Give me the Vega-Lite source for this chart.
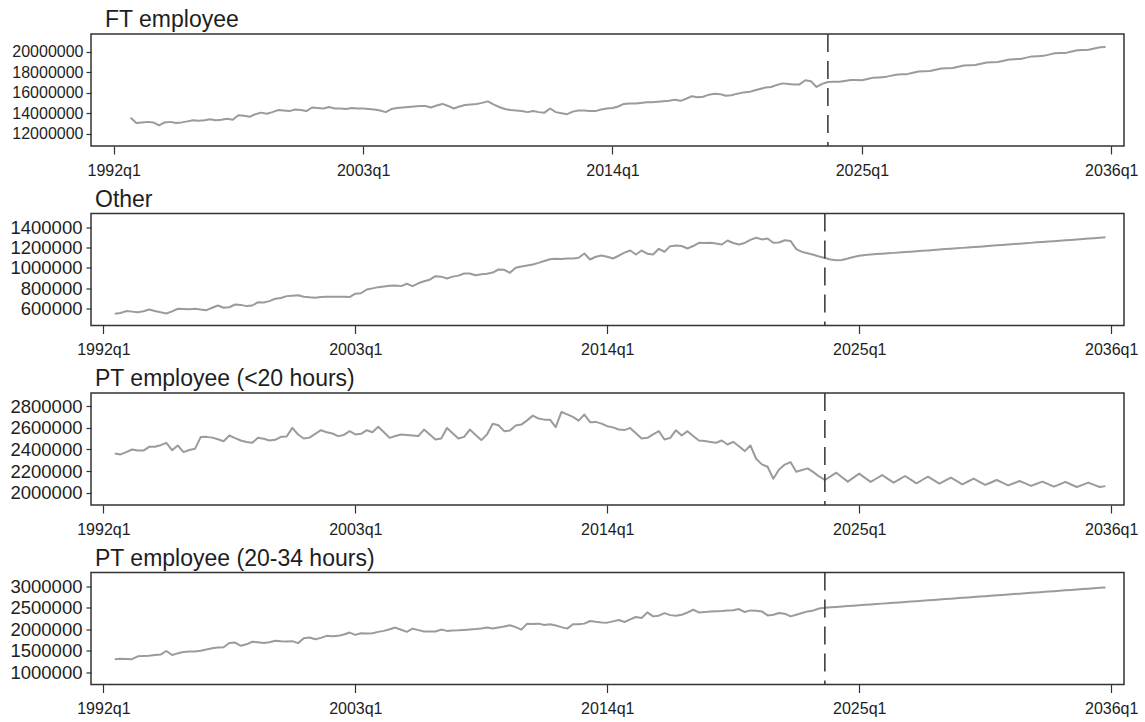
{
  "$schema": "https://vega.github.io/schema/vega-lite/v6.json",
  "background": "white",
  "padding": {"left": 9, "top": 8, "right": 4, "bottom": 0},
  "config": {
    "font": "Liberation Sans",
    "view": {"stroke": "#333333", "strokeWidth": 1.5},
    "axis": {"grid": false, "domain": false, "tickColor": "#333333", "tickWidth": 1.2, "labelColor": "#1e1e1e", "labelFont": "Liberation Sans", "title": null},
    "axisX": {"tickSize": 8, "labelPadding": 8, "labelFontSize": 16, "labelFlush": false},
    "title": {"anchor": "start", "frame": "group", "font": "Liberation Sans", "fontSize": 23, "fontWeight": "normal", "color": "#1e1e1e", "offset": 1, "baseline": "alphabetic", "dx": 4}
  },
  "datasets": {
    "forecastStart": [{"t": 2023.5}],
    "lfs": [
      {"t":1992.5,"other":552000,"pt20":2363000,"pt2034":1300000},
      {"t":1992.75,"ft":13550000,"other":558000,"pt20":2354000,"pt2034":1315000},
      {"t":1993.0,"ft":13050000,"other":577000,"pt20":2375000,"pt2034":1310000},
      {"t":1993.25,"ft":13100000,"other":572000,"pt20":2400000,"pt2034":1305000},
      {"t":1993.5,"ft":13150000,"other":567000,"pt20":2391000,"pt2034":1370000},
      {"t":1993.75,"ft":13100000,"other":575000,"pt20":2390000,"pt2034":1380000},
      {"t":1994.0,"ft":12800000,"other":593000,"pt20":2425000,"pt2034":1385000},
      {"t":1994.25,"ft":13100000,"other":578000,"pt20":2425000,"pt2034":1400000},
      {"t":1994.5,"ft":13150000,"other":565000,"pt20":2440000,"pt2034":1410000},
      {"t":1994.75,"ft":13050000,"other":554000,"pt20":2462000,"pt2034":1495000},
      {"t":1995.0,"ft":13100000,"other":575000,"pt20":2394000,"pt2034":1400000},
      {"t":1995.25,"ft":13200000,"other":600000,"pt20":2437000,"pt2034":1440000},
      {"t":1995.5,"ft":13300000,"other":598000,"pt20":2376000,"pt2034":1470000},
      {"t":1995.75,"ft":13250000,"other":596000,"pt20":2395000,"pt2034":1480000},
      {"t":1996.0,"ft":13300000,"other":600000,"pt20":2406000,"pt2034":1485000},
      {"t":1996.25,"ft":13400000,"other":592000,"pt20":2515000,"pt2034":1500000},
      {"t":1996.5,"ft":13300000,"other":586000,"pt20":2517000,"pt2034":1530000},
      {"t":1996.75,"ft":13350000,"other":610000,"pt20":2510000,"pt2034":1560000},
      {"t":1997.0,"ft":13450000,"other":632000,"pt20":2495000,"pt2034":1578000},
      {"t":1997.25,"ft":13350000,"other":610000,"pt20":2477000,"pt2034":1580000},
      {"t":1997.5,"ft":13800000,"other":615000,"pt20":2530000,"pt2034":1680000},
      {"t":1997.75,"ft":13750000,"other":642000,"pt20":2505000,"pt2034":1690000},
      {"t":1998.0,"ft":13650000,"other":638000,"pt20":2483000,"pt2034":1616000},
      {"t":1998.25,"ft":13900000,"other":626000,"pt20":2470000,"pt2034":1650000},
      {"t":1998.5,"ft":14050000,"other":632000,"pt20":2462000,"pt2034":1709000},
      {"t":1998.75,"ft":13950000,"other":665000,"pt20":2508000,"pt2034":1700000},
      {"t":1999.0,"ft":14100000,"other":662000,"pt20":2500000,"pt2034":1680000},
      {"t":1999.25,"ft":14300000,"other":675000,"pt20":2483000,"pt2034":1700000},
      {"t":1999.5,"ft":14250000,"other":698000,"pt20":2490000,"pt2034":1732000},
      {"t":1999.75,"ft":14200000,"other":705000,"pt20":2517000,"pt2034":1720000},
      {"t":2000.0,"ft":14350000,"other":724000,"pt20":2520000,"pt2034":1715000},
      {"t":2000.25,"ft":14300000,"other":728000,"pt20":2600000,"pt2034":1724000},
      {"t":2000.5,"ft":14200000,"other":733000,"pt20":2539000,"pt2034":1678000},
      {"t":2000.75,"ft":14550000,"other":718000,"pt20":2502000,"pt2034":1790000},
      {"t":2001.0,"ft":14500000,"other":712000,"pt20":2510000,"pt2034":1809000},
      {"t":2001.25,"ft":14450000,"other":708000,"pt20":2545000,"pt2034":1770000},
      {"t":2001.5,"ft":14600000,"other":715000,"pt20":2579000,"pt2034":1800000},
      {"t":2001.75,"ft":14450000,"other":718000,"pt20":2560000,"pt2034":1847000},
      {"t":2002.0,"ft":14450000,"other":718000,"pt20":2548000,"pt2034":1840000},
      {"t":2002.25,"ft":14400000,"other":718000,"pt20":2524000,"pt2034":1847000},
      {"t":2002.5,"ft":14500000,"other":718000,"pt20":2535000,"pt2034":1880000},
      {"t":2002.75,"ft":14450000,"other":715000,"pt20":2570000,"pt2034":1924000},
      {"t":2003.0,"ft":14450000,"other":748000,"pt20":2540000,"pt2034":1870000},
      {"t":2003.25,"ft":14400000,"other":752000,"pt20":2545000,"pt2034":1908000},
      {"t":2003.5,"ft":14350000,"other":789000,"pt20":2579000,"pt2034":1900000},
      {"t":2003.75,"ft":14250000,"other":800000,"pt20":2560000,"pt2034":1910000},
      {"t":2004.0,"ft":14100000,"other":812000,"pt20":2610000,"pt2034":1940000},
      {"t":2004.25,"ft":14400000,"other":818000,"pt20":2560000,"pt2034":1963000},
      {"t":2004.5,"ft":14500000,"other":825000,"pt20":2508000,"pt2034":2000000},
      {"t":2004.75,"ft":14550000,"other":828000,"pt20":2525000,"pt2034":2040000},
      {"t":2005.0,"ft":14600000,"other":822000,"pt20":2539000,"pt2034":1990000},
      {"t":2005.25,"ft":14650000,"other":845000,"pt20":2535000,"pt2034":1940000},
      {"t":2005.5,"ft":14700000,"other":822000,"pt20":2530000,"pt2034":2016000},
      {"t":2005.75,"ft":14700000,"other":850000,"pt20":2524000,"pt2034":1980000},
      {"t":2006.0,"ft":14550000,"other":870000,"pt20":2585000,"pt2034":1947000},
      {"t":2006.25,"ft":14750000,"other":885000,"pt20":2540000,"pt2034":1950000},
      {"t":2006.5,"ft":14900000,"other":920000,"pt20":2493000,"pt2034":1947000},
      {"t":2006.75,"ft":14700000,"other":915000,"pt20":2502000,"pt2034":1993000},
      {"t":2007.0,"ft":14450000,"other":897000,"pt20":2600000,"pt2034":1963000},
      {"t":2007.25,"ft":14650000,"other":915000,"pt20":2550000,"pt2034":1970000},
      {"t":2007.5,"ft":14800000,"other":925000,"pt20":2502000,"pt2034":1975000},
      {"t":2007.75,"ft":14850000,"other":946000,"pt20":2517000,"pt2034":1986000},
      {"t":2008.0,"ft":14900000,"other":946000,"pt20":2585000,"pt2034":1995000},
      {"t":2008.25,"ft":15000000,"other":929000,"pt20":2535000,"pt2034":2005000},
      {"t":2008.5,"ft":15150000,"other":938000,"pt20":2487000,"pt2034":2020000},
      {"t":2008.75,"ft":14850000,"other":943000,"pt20":2539000,"pt2034":2040000},
      {"t":2009.0,"ft":14600000,"other":955000,"pt20":2638000,"pt2034":2016000},
      {"t":2009.25,"ft":14400000,"other":985000,"pt20":2625000,"pt2034":2040000},
      {"t":2009.5,"ft":14300000,"other":982000,"pt20":2570000,"pt2034":2063000},
      {"t":2009.75,"ft":14250000,"other":953000,"pt20":2576000,"pt2034":2093000},
      {"t":2010.0,"ft":14200000,"other":1002000,"pt20":2622000,"pt2034":2050000},
      {"t":2010.25,"ft":14100000,"other":1015000,"pt20":2631000,"pt2034":1993000},
      {"t":2010.5,"ft":14200000,"other":1025000,"pt20":2670000,"pt2034":2132000},
      {"t":2010.75,"ft":14100000,"other":1034000,"pt20":2714000,"pt2034":2125000},
      {"t":2011.0,"ft":14050000,"other":1050000,"pt20":2687000,"pt2034":2132000},
      {"t":2011.25,"ft":14450000,"other":1068000,"pt20":2677000,"pt2034":2101000},
      {"t":2011.5,"ft":14100000,"other":1085000,"pt20":2677000,"pt2034":2116000},
      {"t":2011.75,"ft":14000000,"other":1090000,"pt20":2607000,"pt2034":2090000},
      {"t":2012.0,"ft":13900000,"other":1088000,"pt20":2748000,"pt2034":2050000},
      {"t":2012.25,"ft":14150000,"other":1092000,"pt20":2725000,"pt2034":2016000},
      {"t":2012.5,"ft":14250000,"other":1092000,"pt20":2702000,"pt2034":2116000},
      {"t":2012.75,"ft":14250000,"other":1100000,"pt20":2668000,"pt2034":2120000},
      {"t":2013.0,"ft":14200000,"other":1142000,"pt20":2724000,"pt2034":2132000},
      {"t":2013.25,"ft":14200000,"other":1083000,"pt20":2653000,"pt2034":2193000},
      {"t":2013.5,"ft":14350000,"other":1110000,"pt20":2656000,"pt2034":2175000},
      {"t":2013.75,"ft":14450000,"other":1122000,"pt20":2640000,"pt2034":2160000},
      {"t":2014.0,"ft":14500000,"other":1110000,"pt20":2616000,"pt2034":2155000},
      {"t":2014.25,"ft":14650000,"other":1093000,"pt20":2605000,"pt2034":2185000},
      {"t":2014.5,"ft":14900000,"other":1120000,"pt20":2585000,"pt2034":2217000},
      {"t":2014.75,"ft":14950000,"other":1150000,"pt20":2580000,"pt2034":2170000},
      {"t":2015.0,"ft":14950000,"other":1171000,"pt20":2600000,"pt2034":2230000},
      {"t":2015.25,"ft":15000000,"other":1132000,"pt20":2550000,"pt2034":2286000},
      {"t":2015.5,"ft":15050000,"other":1171000,"pt20":2502000,"pt2034":2263000},
      {"t":2015.75,"ft":15050000,"other":1140000,"pt20":2508000,"pt2034":2394000},
      {"t":2016.0,"ft":15100000,"other":1132000,"pt20":2540000,"pt2034":2301000},
      {"t":2016.25,"ft":15150000,"other":1188000,"pt20":2570000,"pt2034":2317000},
      {"t":2016.5,"ft":15200000,"other":1159000,"pt20":2493000,"pt2034":2378000},
      {"t":2016.75,"ft":15300000,"other":1214000,"pt20":2508000,"pt2034":2330000},
      {"t":2017.0,"ft":15200000,"other":1220000,"pt20":2579000,"pt2034":2317000},
      {"t":2017.25,"ft":15400000,"other":1215000,"pt20":2530000,"pt2034":2340000},
      {"t":2017.5,"ft":15650000,"other":1191000,"pt20":2570000,"pt2034":2390000},
      {"t":2017.75,"ft":15550000,"other":1215000,"pt20":2525000,"pt2034":2455000},
      {"t":2018.0,"ft":15600000,"other":1247000,"pt20":2483000,"pt2034":2394000},
      {"t":2018.25,"ft":15800000,"other":1245000,"pt20":2478000,"pt2034":2400000},
      {"t":2018.5,"ft":15900000,"other":1247000,"pt20":2470000,"pt2034":2417000},
      {"t":2018.75,"ft":15850000,"other":1240000,"pt20":2462000,"pt2034":2420000},
      {"t":2019.0,"ft":15700000,"other":1230000,"pt20":2483000,"pt2034":2425000},
      {"t":2019.25,"ft":15750000,"other":1269000,"pt20":2446000,"pt2034":2440000},
      {"t":2019.5,"ft":15900000,"other":1245000,"pt20":2471000,"pt2034":2445000},
      {"t":2019.75,"ft":16000000,"other":1230000,"pt20":2430000,"pt2034":2471000},
      {"t":2020.0,"ft":16050000,"other":1245000,"pt20":2385000,"pt2034":2401000},
      {"t":2020.25,"ft":16200000,"other":1275000,"pt20":2437000,"pt2034":2440000},
      {"t":2020.5,"ft":16350000,"other":1296000,"pt20":2314000,"pt2034":2430000},
      {"t":2020.75,"ft":16500000,"other":1280000,"pt20":2262000,"pt2034":2417000},
      {"t":2021.0,"ft":16550000,"other":1289000,"pt20":2240000,"pt2034":2324000},
      {"t":2021.25,"ft":16750000,"other":1247000,"pt20":2129000,"pt2034":2340000},
      {"t":2021.5,"ft":16900000,"other":1250000,"pt20":2215000,"pt2034":2378000},
      {"t":2021.75,"ft":16850000,"other":1272000,"pt20":2260000,"pt2034":2363000},
      {"t":2022.0,"ft":16800000,"other":1265000,"pt20":2283000,"pt2034":2301000},
      {"t":2022.25,"ft":16800000,"other":1185000,"pt20":2194000,"pt2034":2340000},
      {"t":2022.5,"ft":17200000,"other":1158000,"pt20":2210000,"pt2034":2378000},
      {"t":2022.75,"ft":17100000,"other":1145000,"pt20":2225000,"pt2034":2417000},
      {"t":2023.0,"ft":16550000,"other":1130000,"pt20":2190000,"pt2034":2440000},
      {"t":2023.25,"ft":16850000,"other":1113000,"pt20":2150000,"pt2034":2486000},
      {"t":2023.5,"ft":17030000,"other":1098000,"pt20":2117000,"pt2034":2501000},
      {"t":2023.75,"ft":17070000,"other":1083000,"pt20":2150000,"pt2034":2511000},
      {"t":2024.0,"ft":17050000,"other":1076000,"pt20":2185000,"pt2034":2520000},
      {"t":2024.25,"ft":17140000,"other":1078000,"pt20":2143000,"pt2034":2530000},
      {"t":2024.5,"ft":17220000,"other":1092000,"pt20":2102000,"pt2034":2540000},
      {"t":2024.75,"ft":17220000,"other":1108000,"pt20":2139000,"pt2034":2549000},
      {"t":2025.0,"ft":17210000,"other":1120000,"pt20":2176000,"pt2034":2559000},
      {"t":2025.25,"ft":17330000,"other":1127000,"pt20":2137000,"pt2034":2569000},
      {"t":2025.5,"ft":17460000,"other":1132000,"pt20":2099000,"pt2034":2578000},
      {"t":2025.75,"ft":17480000,"other":1136000,"pt20":2131000,"pt2034":2588000},
      {"t":2026.0,"ft":17510000,"other":1140000,"pt20":2163000,"pt2034":2598000},
      {"t":2026.25,"ft":17630000,"other":1144000,"pt20":2127000,"pt2034":2607000},
      {"t":2026.5,"ft":17750000,"other":1148000,"pt20":2092000,"pt2034":2617000},
      {"t":2026.75,"ft":17780000,"other":1152000,"pt20":2123000,"pt2034":2627000},
      {"t":2027.0,"ft":17800000,"other":1156000,"pt20":2154000,"pt2034":2636000},
      {"t":2027.25,"ft":17930000,"other":1160000,"pt20":2120000,"pt2034":2646000},
      {"t":2027.5,"ft":18050000,"other":1164000,"pt20":2086000,"pt2034":2656000},
      {"t":2027.75,"ft":18070000,"other":1168000,"pt20":2117000,"pt2034":2665000},
      {"t":2028.0,"ft":18100000,"other":1172000,"pt20":2148000,"pt2034":2675000},
      {"t":2028.25,"ft":18220000,"other":1177000,"pt20":2115000,"pt2034":2685000},
      {"t":2028.5,"ft":18350000,"other":1181000,"pt20":2083000,"pt2034":2694000},
      {"t":2028.75,"ft":18370000,"other":1185000,"pt20":2111000,"pt2034":2704000},
      {"t":2029.0,"ft":18390000,"other":1189000,"pt20":2139000,"pt2034":2714000},
      {"t":2029.25,"ft":18520000,"other":1193000,"pt20":2108000,"pt2034":2723000},
      {"t":2029.5,"ft":18640000,"other":1197000,"pt20":2077000,"pt2034":2733000},
      {"t":2029.75,"ft":18670000,"other":1201000,"pt20":2103000,"pt2034":2743000},
      {"t":2030.0,"ft":18690000,"other":1205000,"pt20":2129000,"pt2034":2752000},
      {"t":2030.25,"ft":18810000,"other":1209000,"pt20":2100000,"pt2034":2762000},
      {"t":2030.5,"ft":18940000,"other":1214000,"pt20":2071000,"pt2034":2772000},
      {"t":2030.75,"ft":18960000,"other":1218000,"pt20":2094000,"pt2034":2781000},
      {"t":2031.0,"ft":18990000,"other":1222000,"pt20":2117000,"pt2034":2791000},
      {"t":2031.25,"ft":19110000,"other":1226000,"pt20":2092000,"pt2034":2801000},
      {"t":2031.5,"ft":19230000,"other":1230000,"pt20":2067000,"pt2034":2810000},
      {"t":2031.75,"ft":19260000,"other":1234000,"pt20":2087000,"pt2034":2820000},
      {"t":2032.0,"ft":19280000,"other":1238000,"pt20":2108000,"pt2034":2830000},
      {"t":2032.25,"ft":19410000,"other":1242000,"pt20":2085000,"pt2034":2839000},
      {"t":2032.5,"ft":19530000,"other":1246000,"pt20":2062000,"pt2034":2849000},
      {"t":2032.75,"ft":19550000,"other":1251000,"pt20":2082000,"pt2034":2859000},
      {"t":2033.0,"ft":19580000,"other":1255000,"pt20":2102000,"pt2034":2868000},
      {"t":2033.25,"ft":19700000,"other":1259000,"pt20":2078000,"pt2034":2878000},
      {"t":2033.5,"ft":19830000,"other":1263000,"pt20":2055000,"pt2034":2888000},
      {"t":2033.75,"ft":19850000,"other":1267000,"pt20":2077000,"pt2034":2897000},
      {"t":2034.0,"ft":19870000,"other":1271000,"pt20":2099000,"pt2034":2907000},
      {"t":2034.25,"ft":20000000,"other":1275000,"pt20":2075000,"pt2034":2917000},
      {"t":2034.5,"ft":20120000,"other":1279000,"pt20":2052000,"pt2034":2926000},
      {"t":2034.75,"ft":20150000,"other":1283000,"pt20":2072000,"pt2034":2936000},
      {"t":2035.0,"ft":20170000,"other":1288000,"pt20":2092000,"pt2034":2946000},
      {"t":2035.25,"ft":20290000,"other":1292000,"pt20":2072000,"pt2034":2955000},
      {"t":2035.5,"ft":20420000,"other":1296000,"pt20":2052000,"pt2034":2965000},
      {"t":2035.75,"ft":20440000,"other":1300000,"pt20":2060000,"pt2034":2975000}
    ]
  },
  "spacing": 8.5,
  "vconcat": [
    {
      "title": {"text": "FT employee", "dx": 14},
      "width": 1033,
      "height": 112,
      "data": {"name": "lfs"},
      "layer": [
        {
          "mark": {"type": "line", "color": "#9b9b9b", "strokeWidth": 2, "strokeJoin": "round"},
          "encoding": {
            "x": {"field": "t", "type": "quantitative", "scale": {"domain": [1991.0, 2036.56], "nice": false, "zero": false}, "axis": {"values": [1992, 2003, 2014, 2025, 2036], "labelExpr": "datum.value + 'q1'"}},
            "y": {"field": "ft", "type": "quantitative", "scale": {"domain": [10800000, 21710000], "nice": false, "zero": false}, "axis": {"values": [12000000, 14000000, 16000000, 18000000, 20000000], "format": "d", "labelFontSize": 16, "tickSize": 5, "labelPadding": 3}}
          }
        },
        {
          "data": {"name": "forecastStart"},
          "mark": {"type": "rule", "color": "#333333", "strokeWidth": 1.5, "strokeDash": [18, 9]},
          "encoding": {"x": {"field": "t", "type": "quantitative"}}
        }
      ]
    },
    {
      "title": "Other",
      "width": 1033,
      "height": 112,
      "data": {"name": "lfs"},
      "layer": [
        {
          "mark": {"type": "line", "color": "#9b9b9b", "strokeWidth": 2, "strokeJoin": "round"},
          "encoding": {
            "x": {"field": "t", "type": "quantitative", "scale": {"domain": [1991.46, 2036.56], "nice": false, "zero": false}, "axis": {"values": [1992, 2003, 2014, 2025, 2036], "labelExpr": "datum.value + 'q1'"}},
            "y": {"field": "other", "type": "quantitative", "scale": {"domain": [436000, 1534000], "nice": false, "zero": false}, "axis": {"values": [600000, 800000, 1000000, 1200000, 1400000], "format": "d", "labelFontSize": 18.5, "tickSize": 5, "labelPadding": 4}}
          }
        },
        {
          "data": {"name": "forecastStart"},
          "mark": {"type": "rule", "color": "#333333", "strokeWidth": 1.5, "strokeDash": [18, 9]},
          "encoding": {"x": {"field": "t", "type": "quantitative"}}
        }
      ]
    },
    {
      "title": "PT employee (<20 hours)",
      "width": 1033,
      "height": 112,
      "data": {"name": "lfs"},
      "layer": [
        {
          "mark": {"type": "line", "color": "#9b9b9b", "strokeWidth": 2, "strokeJoin": "round"},
          "encoding": {
            "x": {"field": "t", "type": "quantitative", "scale": {"domain": [1991.46, 2036.56], "nice": false, "zero": false}, "axis": {"values": [1992, 2003, 2014, 2025, 2036], "labelExpr": "datum.value + 'q1'"}},
            "y": {"field": "pt20", "type": "quantitative", "scale": {"domain": [1885000, 2924000], "nice": false, "zero": false}, "axis": {"values": [2000000, 2200000, 2400000, 2600000, 2800000], "format": "d", "labelFontSize": 18.5, "tickSize": 5, "labelPadding": 4}}
          }
        },
        {
          "data": {"name": "forecastStart"},
          "mark": {"type": "rule", "color": "#333333", "strokeWidth": 1.5, "strokeDash": [18, 9]},
          "encoding": {"x": {"field": "t", "type": "quantitative"}}
        }
      ]
    },
    {
      "title": "PT employee (20-34 hours)",
      "width": 1033,
      "height": 112,
      "data": {"name": "lfs"},
      "layer": [
        {
          "mark": {"type": "line", "color": "#9b9b9b", "strokeWidth": 2, "strokeJoin": "round"},
          "encoding": {
            "x": {"field": "t", "type": "quantitative", "scale": {"domain": [1991.46, 2036.56], "nice": false, "zero": false}, "axis": {"values": [1992, 2003, 2014, 2025, 2036], "labelExpr": "datum.value + 'q1'"}},
            "y": {"field": "pt2034", "type": "quantitative", "scale": {"domain": [714000, 3323000], "nice": false, "zero": false}, "axis": {"values": [1000000, 1500000, 2000000, 2500000, 3000000], "format": "d", "labelFontSize": 18.5, "tickSize": 5, "labelPadding": 4}}
          }
        },
        {
          "data": {"name": "forecastStart"},
          "mark": {"type": "rule", "color": "#333333", "strokeWidth": 1.5, "strokeDash": [18, 9]},
          "encoding": {"x": {"field": "t", "type": "quantitative"}}
        }
      ]
    }
  ]
}
